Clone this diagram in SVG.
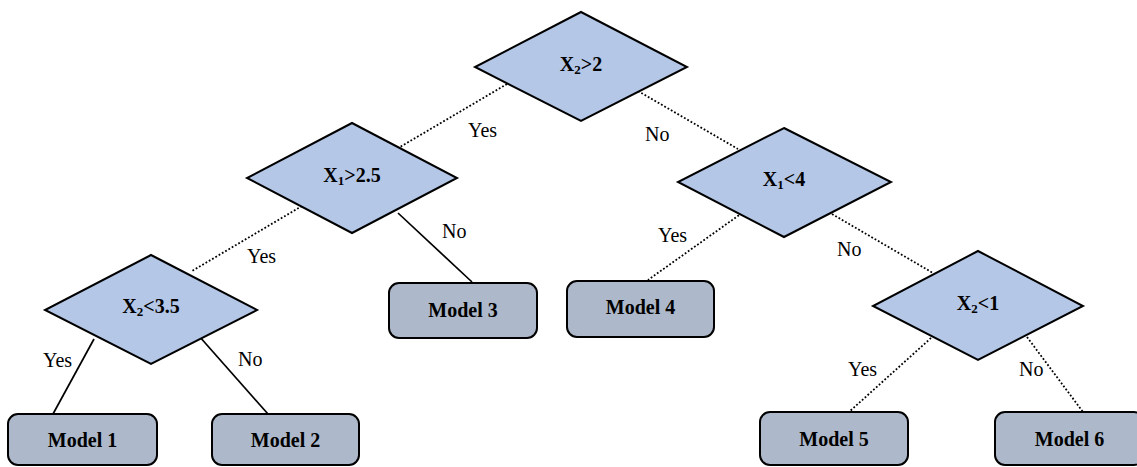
<svg xmlns="http://www.w3.org/2000/svg" width="1137" height="467" viewBox="0 0 1137 467">
  <style>
    .dia { fill: #B4C7E7; stroke: #000; stroke-width: 2; }
    .box { fill: #ADB9CA; stroke: #000; stroke-width: 2; }
    .solid { stroke: #000; stroke-width: 1.7; fill: none; }
    .dot { stroke: #000; stroke-width: 1.8; fill: none; stroke-dasharray: 1.8 2; }
    .cond { font-family: "Liberation Serif", "Times New Roman", serif; font-size: 20px; font-weight: bold; text-anchor: middle; fill: #000; }
    .sub { font-size: 13px; }
    .lbl { font-family: "Liberation Serif", "Times New Roman", serif; font-size: 20px; fill: #000; }
  </style>
  <rect width="1137" height="467" fill="#fff"/>
  <g id="connectors">
    <line class="dot" x1="507" y1="84" x2="400" y2="147"/>
    <line class="dot" x1="638" y1="91" x2="738" y2="149"/>
    <line class="dot" x1="302" y1="206" x2="192" y2="271"/>
    <line class="solid" x1="398" y1="213" x2="472" y2="282"/>
    <line class="dot" x1="742" y1="213" x2="648" y2="280"/>
    <line class="dot" x1="832" y1="214" x2="933" y2="273"/>
    <line class="solid" x1="94" y1="339" x2="53" y2="414"/>
    <line class="solid" x1="199" y1="336" x2="268" y2="414"/>
    <line class="dot" x1="931" y1="338" x2="849" y2="412"/>
    <line class="dot" x1="1027" y1="337" x2="1083" y2="412"/>
    <text class="lbl" x="468" y="137">Yes</text>
    <text class="lbl" x="645" y="141">No</text>
    <text class="lbl" x="247" y="263">Yes</text>
    <text class="lbl" x="442" y="238">No</text>
    <text class="lbl" x="658" y="242">Yes</text>
    <text class="lbl" x="837" y="256">No</text>
    <text class="lbl" x="43" y="367">Yes</text>
    <text class="lbl" x="238" y="366">No</text>
    <text class="lbl" x="848" y="376">Yes</text>
    <text class="lbl" x="1019" y="376">No</text>
  </g>
  <g id="d1">
    <polygon class="dia" points="581,12 687,67 581,121 475,67"/>
    <text class="cond" x="581" y="71">X<tspan class="sub" dy="3">2</tspan><tspan dy="-3">&gt;2</tspan></text>
  </g>
  <g id="d2">
    <polygon class="dia" points="352,123 457,178 352,233 247,178"/>
    <text class="cond" x="352" y="182">X<tspan class="sub" dy="3">1</tspan><tspan dy="-3">&gt;2.5</tspan></text>
  </g>
  <g id="d3">
    <polygon class="dia" points="784,128 891,182 784,237 678,182"/>
    <text class="cond" x="784" y="186">X<tspan class="sub" dy="3">1</tspan><tspan dy="-3">&lt;4</tspan></text>
  </g>
  <g id="d4">
    <polygon class="dia" points="151,255 257,310 151,364 45,310"/>
    <text class="cond" x="151" y="313">X<tspan class="sub" dy="3">2</tspan><tspan dy="-3">&lt;3.5</tspan></text>
  </g>
  <g id="d5">
    <polygon class="dia" points="978,251 1083,306 978,360 873,306"/>
    <text class="cond" x="978" y="310">X<tspan class="sub" dy="3">2</tspan><tspan dy="-3">&lt;1</tspan></text>
  </g>
  <g id="m1">
    <rect class="box" x="8" y="414" width="149" height="51" rx="10"/>
    <text class="cond" x="82.5" y="447">Model 1</text>
  </g>
  <g id="m2">
    <rect class="box" x="212" y="414" width="147" height="51" rx="10"/>
    <text class="cond" x="285.5" y="447">Model 2</text>
  </g>
  <g id="m3">
    <rect class="box" x="389" y="283" width="148" height="55" rx="10"/>
    <text class="cond" x="463" y="317">Model 3</text>
  </g>
  <g id="m4">
    <rect class="box" x="567" y="281" width="147" height="56" rx="10"/>
    <text class="cond" x="640.5" y="314">Model 4</text>
  </g>
  <g id="m5">
    <rect class="box" x="760" y="412" width="148" height="53" rx="10"/>
    <text class="cond" x="834" y="446">Model 5</text>
  </g>
  <g id="m6">
    <rect class="box" x="995" y="412" width="149" height="53" rx="10"/>
    <text class="cond" x="1069.5" y="446">Model 6</text>
  </g>
</svg>
